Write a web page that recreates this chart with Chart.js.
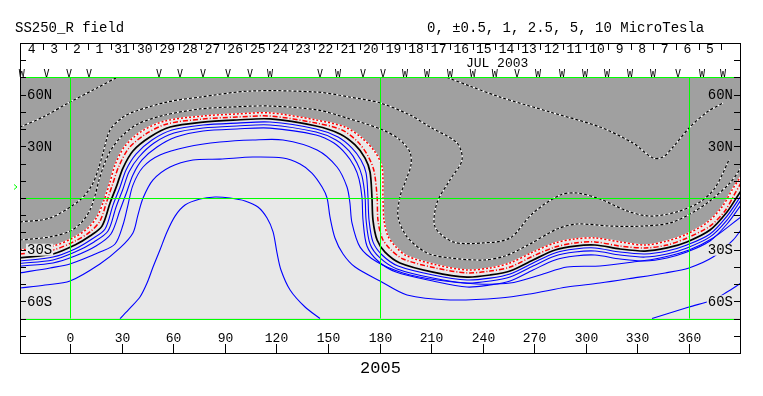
<!DOCTYPE html>
<html><head><meta charset="utf-8">
<script src="https://cdn.jsdelivr.net/npm/chart.js@4"></script>
<style>html,body{margin:0;padding:0;background:#fff}canvas{display:block}</style>
</head><body>
<canvas id="c" width="763" height="396" style="width:763px;height:396px"></canvas>
<script>
// ---------- axis ranges ----------
const lonMin = -29.08, lonMax = 390.24;
const latMin = -90, latMax = 90, mapLatMax = 70, mapLatMin = -70;

// ---------- contour lines [longitude, latitude] ----------
const neutralLine = [[-29.1,-34.8],[-9.9,-32.5],[2.9,-27.3],[11.6,-22.1],[18.6,-16.3],[23.3,-2.9],[27.3,7.5],[30.8,17.4],[36.6,27.3],[46.5,35.4],[58.2,41.2],[77.4,44.1],[97.1,45.3],[116.3,45.9],[143.1,41.8],[157.0,37.2],[165.8,30.8],[171.6,23.2],[174.5,15.1],[175.6,0.6],[176.2,-12.8],[178.6,-24.4],[183.2,-31.4],[191.9,-37.7],[211.1,-43.0],[230.9,-45.9],[244.3,-44.7],[255.9,-42.4],[269.3,-36.0],[282.1,-30.2],[293.7,-27.9],[305.3,-27.3],[319.9,-29.6],[334.4,-30.8],[347.2,-29.0],[358.8,-25.5],[372.2,-18.6],[382.1,-8.1],[387.9,0.6],[390.2,4.1]];
const redDashDot = [[-29.1,-32.5],[-9.9,-30.2],[2.9,-25.0],[11.6,-19.7],[17.4,-13.4],[21.5,-1.7],[25.0,8.7],[28.5,18.6],[34.3,29.0],[44.2,37.2],[56.4,43.0],[77.4,45.9],[97.1,47.0],[116.3,47.6],[143.1,43.5],[158.2,39.5],[167.5,32.5],[173.3,24.4],[176.8,15.7],[178.6,0.6],[179.1,-12.8],[181.5,-23.2],[186.1,-29.6],[193.7,-35.4],[212.3,-40.6],[230.9,-43.5],[244.3,-42.4],[255.9,-40.1],[269.3,-33.7],[282.1,-28.5],[293.7,-26.1],[305.3,-25.5],[319.9,-27.9],[334.4,-29.0],[347.2,-27.3],[358.8,-23.2],[372.2,-16.3],[380.9,-7.5],[386.2,1.7],[390.2,8.7]];
const redDotted = [[-29.1,-30.2],[-9.9,-27.9],[2.9,-22.6],[10.5,-17.4],[15.7,-11.0],[19.8,-1.2],[23.3,9.3],[26.2,19.2],[32.0,30.2],[41.9,38.9],[55.3,44.7],[77.4,47.6],[97.1,48.8],[116.3,49.4],[143.1,45.3],[159.9,41.2],[169.8,34.8],[177.4,26.7],[181.5,18.0],[182.0,0.6],[182.6,-12.8],[184.9,-22.1],[189.6,-28.5],[196.0,-33.7],[213.4,-38.9],[230.9,-41.8],[244.3,-40.6],[255.9,-37.7],[269.3,-31.4],[282.1,-26.1],[293.7,-23.8],[305.3,-23.2],[319.9,-25.5],[334.4,-27.3],[347.2,-25.0],[358.8,-20.9],[371.0,-13.9],[379.2,-5.2],[385.0,4.6],[390.2,12.8]];
const blue1 = [[-29.1,-36.6],[-9.9,-34.3],[2.9,-29.6],[12.8,-23.8],[20.4,-18.0],[25.0,-4.1],[29.1,6.4],[32.6,16.3],[38.4,25.5],[47.7,33.7],[59.3,39.5],[77.4,42.4],[97.1,43.5],[116.3,44.1],[143.1,40.1],[155.9,35.4],[164.0,29.0],[169.2,22.1],[172.2,14.5],[173.3,0.6],[173.9,-12.8],[176.2,-25.5],[181.5,-33.1],[190.8,-39.5],[211.1,-44.7],[230.9,-47.6],[244.3,-46.5],[255.9,-44.1],[269.3,-37.7],[282.1,-31.9],[293.7,-29.6],[305.3,-29.0],[319.9,-31.4],[334.4,-32.5],[347.2,-30.8],[358.8,-27.3],[372.2,-20.9],[382.1,-10.5],[390.2,1.2]];
const blue2 = [[-29.1,-38.0],[-9.9,-36.0],[2.9,-31.4],[14.0,-25.5],[22.1,-19.2],[26.8,-5.2],[30.8,5.2],[34.3,15.1],[40.1,23.8],[48.9,31.9],[60.5,37.7],[77.4,40.6],[97.1,41.8],[116.3,42.4],[143.1,38.3],[154.7,33.7],[162.3,27.3],[166.9,20.3],[169.8,12.8],[171.6,0.6],[172.2,-12.8],[174.5,-26.7],[180.3,-34.8],[190.2,-41.2],[211.1,-46.5],[230.9,-49.4],[244.3,-48.2],[255.9,-45.9],[269.3,-39.5],[282.1,-33.7],[293.7,-31.4],[305.3,-30.8],[319.9,-33.1],[334.4,-34.3],[347.2,-32.5],[358.8,-29.0],[372.2,-22.6],[382.1,-12.8],[390.2,-1.2]];
const blue3 = [[-29.1,-39.5],[-9.9,-37.7],[2.9,-33.7],[15.1,-27.9],[23.8,-20.9],[29.1,-7.0],[33.2,4.1],[36.6,13.4],[41.9,22.1],[50.6,29.6],[61.6,35.4],[77.4,38.9],[97.1,40.1],[116.3,40.6],[143.1,36.6],[153.5,31.9],[160.5,25.5],[165.2,18.6],[168.1,11.0],[169.8,0.6],[170.4,-12.8],[172.7,-27.9],[179.1,-36.6],[189.6,-43.0],[211.1,-48.2],[230.9,-51.7],[244.3,-50.5],[255.9,-48.2],[269.3,-41.8],[282.1,-36.0],[293.7,-33.7],[305.3,-33.1],[319.9,-35.4],[334.4,-36.6],[347.2,-34.8],[358.8,-31.4],[372.2,-25.0],[382.1,-15.1],[390.2,-4.1]];
const blue4 = [[-29.1,-43.5],[-11.6,-40.6],[0,-38.3],[17.4,-31.4],[26.2,-26.7],[30.8,-15.7],[33.7,-4.1],[36.6,7.5],[42.5,18.0],[52.3,25.0],[68.0,29.6],[87.2,32.5],[106.4,33.7],[123.9,33.7],[143.7,27.9],[155.3,18.0],[161.1,6.4],[162.8,-2.9],[164.0,-14.5],[168.7,-28.5],[178.6,-37.2],[193.7,-43.5],[213.4,-47.6],[236.7,-49.9],[255.9,-49.4],[273.4,-44.7],[289.1,-40.1],[308.2,-39.5],[327.4,-37.2],[343.1,-34.8],[360.0,-30.2],[374.0,-23.2],[390.2,-11.0]];
const blue5 = [[-29.1,-52.3],[-14.5,-50.5],[0,-48.2],[17.4,-38.3],[29.1,-29.0],[36.6,-20.3],[39.5,-9.9],[42.5,0],[48.3,10.5],[58.2,18.0],[71.5,22.1],[87.2,22.6],[106.4,23.8],[123.9,23.2],[133.8,19.7],[140.7,14.5],[146.6,6.4],[149.5,0],[151.2,-11.0],[154.1,-23.2],[158.8,-32.5],[165.8,-40.1],[180.3,-48.2],[196.0,-56.3],[221.0,-59.2],[250.1,-58.1],[267.5,-55.7],[289.1,-51.7],[308.2,-49.4],[327.4,-46.5],[346.1,-43.5],[360.0,-40.6],[374.0,-34.3],[385.6,-24.4],[390.2,-18.6]];
const blueDome = [[29.1,-70],[34.9,-63.9],[40.7,-57.5],[44.8,-49.4],[48.3,-40.1],[52.3,-30.2],[56.4,-19.7],[61.1,-10.5],[66.9,-4.1],[75.6,-0.6],[84.3,0.6],[93.1,0],[101.8,-1.7],[109.3,-5.2],[114.6,-11.6],[118.1,-19.7],[120.4,-31.9],[122.7,-41.8],[128.0,-53.4],[136.7,-63.3],[145.4,-70]];
const blueSouthEast = [[338.5,-70],[360.0,-63.3],[374.0,-59.2],[382.1,-54.6],[390.2,-49.4]];
const dotted1 = [[-29.1,41.2],[-15.7,47.0],[0,55.7],[15.7,63.9],[27.3,70]];
const dotted2 = [[-29.1,-13.9],[-11.6,-11.6],[5.8,-1.2],[12.8,7.5],[16.3,16.3],[19.2,26.1],[23.3,39.5],[30.2,46.5],[36.6,49.9],[56.4,55.7],[75.6,58.6],[104.7,62.1],[143.7,61.5],[162.8,58.6],[180.3,55.2],[197.7,48.2],[209.4,41.2],[225.1,31.9],[228.0,22.1],[221.0,10.5],[213.4,-2.9],[212.3,-16.8],[222.8,-25.5],[240.2,-26.1],[255.9,-23.2],[269.3,-8.7],[285.0,1.7],[294.9,2.9],[308.2,-0.6],[324.0,-7.5],[337.3,-10.5],[353.0,-8.1],[366.4,-2.3],[375.1,5.8],[383.3,22.1]];
const dotted3 = [[-29.1,-24.4],[-11.6,-22.6],[0,-19.2],[7.0,-13.9],[11.6,-7.0],[14.5,1.2],[16.9,10.5],[19.8,19.2],[23.8,27.9],[30.2,36.0],[39.5,43.0],[55.3,48.2],[75.6,51.7],[93.1,52.8],[116.3,53.4],[143.7,51.1],[162.8,45.9],[182.0,39.5],[191.9,33.7],[197.7,26.7],[198.3,19.2],[195.4,10.5],[191.9,0.6],[190.8,-11.0],[196.0,-22.6],[207.6,-31.9],[221.0,-34.8],[240.2,-36.0],[253.0,-33.7],[267.5,-26.7],[283.2,-18.0],[294.9,-15.1],[314.1,-16.3],[333.3,-16.3],[349.0,-14.5],[360.6,-9.3],[372.2,-1.7],[383.8,8.7],[390.2,17.4]];
const dotted4 = [[219.3,70],[232.6,65.0],[250.1,58.6],[279.2,49.9],[308.2,41.2],[327.4,31.9],[339.1,23.2],[344.9,23.8],[350.7,29.6],[360.6,41.2],[370.5,49.9],[379.8,55.2]];

// ---------- tick labels ----------
const lonTicks = [0,30,60,90,120,150,180,210,240,270,300,330,360];
const latTicks = [-80,-70,-60,-50,-40,-30,-20,-10,0,10,20,30,40,50,60,70,80];
const latLabelValues = [60,30,-30,-60];
const latLabelTexts = ['60N','30N','30S','60S'];
const dayLabels = ['4','3','2','1','31','30','29','28','27','26','25','24','23','22','21','20','19','18','17','16','15','14','13','12','11','10','9','8','7','6','5'];
const dayStartLon = -22.3, dayStepLon = 13.15;
const markerLons = [-28.1,-13.6,-0.6,11.0,51.8,64.0,77.4,91.9,104.7,116.3,145.4,155.9,170.4,182.0,194.8,207.6,221.0,234.3,247.1,259.9,272.2,286.1,299.5,312.3,325.7,339.1,353.6,367.6,379.8];
const markerTypes = ['W','V','V','V','V','V','V','V','V','W','V','W','V','V','W','W','W','W','W','V','W','W','W','W','W','W','V','W','W'];
const greenLons = [0,180,360];
const greenLats = [70,0,-70];

const GRAY = '#a0a0a0', LIGHT = '#e8e8e8', GREEN = '#00ff00', BLUE = '#0000ff', RED = '#ff0000';
const MONO = '"Liberation Mono","DejaVu Sans Mono",monospace';

const pts = a => a.map(p => ({x: p[0], y: p[1]}));
function line(arr, color, width, dash, extra) {
  return Object.assign({data: pts(arr), borderColor: color, borderWidth: width, borderDash: dash || [],
    pointRadius: 0, fill: false, tension: 0.3}, extra || {});
}

// draw order: first = bottom
const drawList = [];
drawList.push(line(redDotted, 'rgba(0,0,0,0)', 0, [], {fill: {value: mapLatMin}, backgroundColor: LIGHT}));
[dotted1, dotted2, dotted3, dotted4].forEach(d => {
  drawList.push(line(d, '#ffffff', 1.2));
  drawList.push(line(d, '#000000', 1.2, [3, 2]));
});
[blue1, blue2, blue3, blue4, blue5, blueDome, blueSouthEast].forEach(d => drawList.push(line(d, BLUE, 1.1)));
drawList.push(line(redDotted, '#ffffff', 1.5));
drawList.push(line(redDotted, RED, 1.5, [2, 2]));
drawList.push(line(redDashDot, RED, 1.5, [5, 2, 1, 2]));
drawList.push(line(neutralLine, '#000000', 1.7));
drawList.forEach((d, i) => d.order = drawList.length - i);

const bgPlugin = {
  id: 'bg',
  beforeDraw(chart) {
    const {ctx, scales: {x, y}} = chart;
    ctx.save();
    ctx.fillStyle = '#fff';
    ctx.fillRect(0, 0, chart.width, chart.height);
    const t = y.getPixelForValue(mapLatMax), b = y.getPixelForValue(mapLatMin);
    ctx.fillStyle = GRAY;
    ctx.fillRect(x.left, t, x.right - x.left, b - t);
    ctx.restore();
  }
};

const overlayPlugin = {
  id: 'overlay',
  afterDatasetsDraw(chart) {
    const {ctx, chartArea: ca, scales: {x, y}} = chart;
    ctx.save();
    // green grid
    ctx.strokeStyle = GREEN; ctx.lineWidth = 1;
    const yt = y.getPixelForValue(mapLatMax), yb = y.getPixelForValue(mapLatMin);
    greenLons.forEach(l => {
      const px = Math.round(x.getPixelForValue(l)) + 0.5;
      ctx.beginPath(); ctx.moveTo(px, yt); ctx.lineTo(px, yb); ctx.stroke();
    });
    greenLats.forEach(l => {
      const py = Math.round(y.getPixelForValue(l)) + 0.5;
      ctx.beginPath(); ctx.moveTo(ca.left, py); ctx.lineTo(ca.right, py); ctx.stroke();
    });
    // latitude labels with background boxes
    ctx.font = '14px ' + MONO;
    ctx.textBaseline = 'middle';
    latLabelValues.forEach((v, i) => {
      const py = y.getPixelForValue(v);
      const txt = latLabelTexts[i];
      const w = ctx.measureText(txt).width;
      ctx.fillStyle = v > 0 ? GRAY : LIGHT;
      ctx.fillRect(ca.left + 6, py - 6, w + 2, 12);
      ctx.fillRect(ca.right - 8 - w - 1, py - 6, w + 2, 12);
      ctx.fillStyle = '#000';
      ctx.textAlign = 'left';
      ctx.fillText(txt, ca.left + 7, py + 1);
      ctx.textAlign = 'right';
      ctx.fillText(txt, ca.right - 8, py + 1);
    });
    // frame
    ctx.strokeStyle = '#000'; ctx.lineWidth = 1;
    ctx.strokeRect(Math.round(ca.left) + 0.5, Math.round(ca.top) + 0.5, Math.round(ca.right - ca.left) - 1, Math.round(ca.bottom - ca.top));
    // latitude ticks both sides
    latTicks.forEach(v => {
      const py = Math.round(y.getPixelForValue(v)) + 0.5;
      ctx.beginPath();
      ctx.moveTo(ca.left, py); ctx.lineTo(ca.left + 6, py);
      ctx.moveTo(ca.right - 7, py); ctx.lineTo(ca.right, py);
      ctx.stroke();
    });
    // longitude ticks + labels
    ctx.font = '13px ' + MONO;
    ctx.textAlign = 'center'; ctx.textBaseline = 'alphabetic';
    ctx.fillStyle = '#000';
    lonTicks.forEach(v => {
      const px = Math.round(x.getPixelForValue(v)) + 0.5;
      ctx.beginPath(); ctx.moveTo(px, ca.bottom); ctx.lineTo(px, ca.bottom - 9); ctx.stroke();
      ctx.fillText(String(v), px, ca.bottom - 11);
    });
    // day labels on top band
    ctx.font = '13px ' + MONO;
    dayLabels.forEach((d, i) => {
      const px = x.getPixelForValue(dayStartLon + dayStepLon * i);
      ctx.fillText(d, px, ca.top + 10);
      const sx = Math.round(x.getPixelForValue(dayStartLon + dayStepLon * (i + 0.5))) + 0.5;
      ctx.beginPath(); ctx.moveTo(sx, ca.top + 1); ctx.lineTo(sx, ca.top + 7); ctx.stroke();
    });
    ctx.fillText('JUL 2003', x.getPixelForValue(248.4), ca.top + 24);
    // V / W markers
    ctx.font = '10px "DejaVu Sans Mono",monospace';
    ctx.textBaseline = 'bottom';
    const my = y.getPixelForValue(mapLatMax);
    markerLons.forEach((l, i) => ctx.fillText(markerTypes[i], x.getPixelForValue(l), my + 1.5));
    // green marker at left
    const gy = y.getPixelForValue(6.4);
    ctx.strokeStyle = GREEN;
    ctx.beginPath(); ctx.moveTo(ca.left - 6, gy - 2.5); ctx.lineTo(ca.left - 3, gy); ctx.lineTo(ca.left - 6, gy + 2.5); ctx.stroke();
    // titles
    ctx.fillStyle = '#000';
    ctx.textBaseline = 'alphabetic';
    ctx.font = '14px ' + MONO;
    ctx.textAlign = 'left';
    ctx.fillText('SS250_R field', 15, 32);
    ctx.fillText('0, \u00B10.5, 1, 2.5, 5, 10 MicroTesla', 427, 32);
    ctx.font = '17px ' + MONO;
    ctx.textAlign = 'center';
    ctx.fillText('2005', (ca.left + ca.right) / 2, 373);
    ctx.restore();
  }
};

new Chart(document.getElementById('c').getContext('2d'), {
  type: 'line',
  data: {datasets: drawList},
  options: {
    responsive: false, animation: false, events: [], devicePixelRatio: 1,
    layout: {padding: {left: 20, right: 22, top: 43, bottom: 43}},
    scales: {
      x: {type: 'linear', min: lonMin, max: lonMax, display: false},
      y: {type: 'linear', min: latMin, max: latMax, display: false}
    },
    plugins: {legend: {display: false}, tooltip: {enabled: false}}
  },
  plugins: [bgPlugin, overlayPlugin]
});
</script>
</body></html>
